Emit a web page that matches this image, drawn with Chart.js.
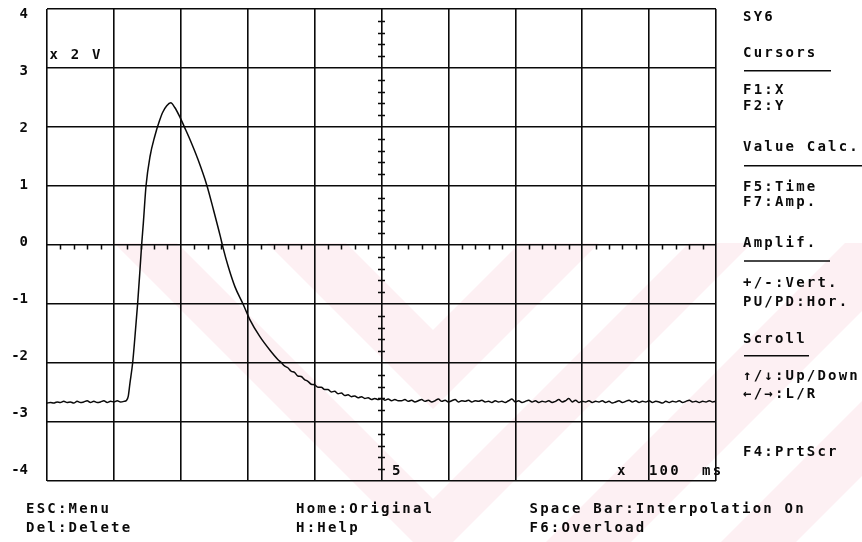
<!DOCTYPE html>
<html>
<head>
<meta charset="utf-8">
<script src="https://cdn.jsdelivr.net/npm/chart.js@4/dist/chart.umd.min.js"></script>
<style>
  html, body { margin: 0; padding: 0; background: #fff; overflow: hidden; }
  canvas { display: block; }
</style>
</head>
<body>
<canvas id="scope" width="862" height="542"></canvas>
<script>
// Recorded transient: time in units of 100 ms, amplitude in units of 2 V
const sampleTimes = [
  0.00, 0.05, 0.10, 0.15, 0.20, 0.25, 0.30, 0.35, 0.40, 0.45, 0.50, 0.55,
  0.60, 0.65, 0.70, 0.75, 0.80, 0.85, 0.90, 0.95, 1.00, 1.05, 1.10, 1.15,
  1.19, 1.215, 1.24, 1.28, 1.315, 1.355, 1.39, 1.415, 1.44, 1.48, 1.54, 1.61,
  1.68, 1.73, 1.79, 1.85, 1.91, 1.99, 2.05, 2.14, 2.26, 2.39, 2.49, 2.59,
  2.63, 2.71, 2.81, 2.93, 3.03, 3.18, 3.33, 3.45,
  3.50, 3.55, 3.60, 3.65, 3.70, 3.75, 3.80, 3.85, 3.90, 3.95, 4.00, 4.05,
  4.10, 4.15, 4.20, 4.25, 4.30, 4.35, 4.40, 4.45, 4.50, 4.55, 4.60, 4.65,
  4.70, 4.75, 4.80, 4.85, 4.90, 4.95, 5.00, 5.05, 5.10, 5.15, 5.20, 5.25,
  5.30, 5.35, 5.40, 5.45, 5.50, 5.55, 5.60, 5.65, 5.70, 5.75, 5.80, 5.85,
  5.90, 5.95, 6.00, 6.05, 6.10, 6.15, 6.20, 6.25, 6.30, 6.35, 6.40, 6.45,
  6.50, 6.55, 6.60, 6.65, 6.70, 6.75, 6.80, 6.85, 6.90, 6.95, 7.00, 7.05,
  7.10, 7.15, 7.20, 7.25, 7.30, 7.35, 7.40, 7.45, 7.50, 7.55, 7.60, 7.65,
  7.70, 7.75, 7.80, 7.85, 7.90, 7.95, 8.00, 8.05, 8.10, 8.15, 8.20, 8.25,
  8.30, 8.35, 8.40, 8.45, 8.50, 8.55, 8.60, 8.65, 8.70, 8.75, 8.80, 8.85,
  8.90, 8.95, 9.00, 9.05, 9.10, 9.15, 9.20, 9.25, 9.30, 9.35, 9.40, 9.45,
  9.50, 9.55, 9.60, 9.65, 9.70, 9.75, 9.80, 9.85, 9.90, 9.95, 10.00
];
const sampleVolts = [
  -2.68, -2.67, -2.68, -2.66, -2.67, -2.65, -2.67, -2.66, -2.68, -2.65, -2.67, -2.66,
  -2.64, -2.67, -2.65, -2.67, -2.66, -2.64, -2.67, -2.65, -2.66, -2.64, -2.66, -2.65,
  -2.63, -2.56, -2.34, -2.00, -1.55, -0.99, -0.42, 0.01, 0.37, 1.00, 1.50, 1.84,
  2.10, 2.25, 2.36, 2.41, 2.33, 2.16, 2.01, 1.78, 1.44, 1.01, 0.59, 0.15,
  -0.04, -0.37, -0.71, -1.00, -1.26, -1.55, -1.78, -1.94,
  -1.99, -2.05, -2.08, -2.14, -2.16, -2.22, -2.23, -2.28, -2.31, -2.36, -2.37, -2.41,
  -2.41, -2.45, -2.45, -2.49, -2.48, -2.52, -2.51, -2.55, -2.54, -2.57, -2.56, -2.59,
  -2.57, -2.60, -2.59, -2.62, -2.60, -2.62, -2.60, -2.63, -2.61, -2.64, -2.62, -2.64,
  -2.64, -2.62, -2.65, -2.63, -2.66, -2.64, -2.62, -2.65, -2.63, -2.66, -2.64, -2.61,
  -2.65, -2.63, -2.66, -2.64, -2.62, -2.66, -2.64, -2.65, -2.63, -2.66, -2.64, -2.65,
  -2.63, -2.66, -2.65, -2.67, -2.64, -2.66, -2.65, -2.67, -2.64, -2.61, -2.66, -2.64,
  -2.67, -2.65, -2.63, -2.66, -2.64, -2.67, -2.65, -2.66, -2.64, -2.67, -2.65, -2.62,
  -2.66, -2.64, -2.60, -2.66, -2.63, -2.67, -2.65, -2.66, -2.64, -2.67, -2.65, -2.66,
  -2.64, -2.67, -2.65, -2.68, -2.66, -2.64, -2.67, -2.65, -2.63, -2.66, -2.64, -2.67,
  -2.65, -2.66, -2.64, -2.67, -2.65, -2.66, -2.68, -2.65, -2.67, -2.65, -2.66, -2.64,
  -2.67, -2.65, -2.63, -2.66, -2.65, -2.67, -2.65, -2.66, -2.64, -2.66, -2.65
];

// Axis ranges and labels
const timeRange = [0, 10];
const voltRange = [-4, 4];
const voltTickLabels = [4, 3, 2, 1, 0, -1, -2, -3, -4];
const timeMarkLabel = '5';
const timeMarkValue = 5;
const timeUnitLabel = 'x  100  ms';
const voltUnitLabel = 'x 2 V';

// Key help texts
const bottomMenu = [
  ['ESC:Menu', 'Del:Delete'],
  ['Home:Original', 'H:Help'],
  ['Space Bar:Interpolation On', 'F6:Overload']
];
const sideMenu = [
  'SY6', 'Cursors', '—', 'F1:X', 'F2:Y', 'Value Calc.', '—', 'F5:Time', 'F7:Amp.',
  'Amplif.', '—', '+/-:Vert.', 'PU/PD:Hor.', 'Scroll', '—', '↑/↓:Up/Down', '←/→:L/R', 'F4:PrtScr'
];

// Layout of the text panels (pixels)
const sideX = 743;
const sideRows = [20.5, 57, 70.7, 94, 110, 150.5, 165.7, 190.5, 205.5, 246.5, 261, 286.5, 305.5, 343, 355.7, 380, 398, 456];
const sideRuleEnds = [831, 862, 830, 809];
const bottomCols = [26, 296, 529.5];
const bottomRows = [512.7, 531.7];

const MONO = '"DejaVu Sans Mono", "Liberation Mono", monospace';
const INK = '#0a0a0a';
const TEXT_FONT = 'bold 14px ' + MONO;

function noEdgePadding(s) {
  s.paddingTop = 0; s.paddingBottom = 0; s.paddingLeft = 0; s.paddingRight = 0;
}

// chevron band: points whose y + |x - ax| lies between c1 and c2
function chevronPath(c, ax, top, c1, c2, rightOnly) {
  c.beginPath();
  if (rightOnly) {
    c.moveTo(ax, c2); c.lineTo(ax + (c2 - top), top); c.lineTo(ax + (c1 - top), top); c.lineTo(ax, c1); c.closePath();
  } else {
    c.moveTo(ax - (c2 - top), top); c.lineTo(ax, c2); c.lineTo(ax + (c2 - top), top); c.closePath();
    c.moveTo(ax - (c1 - top), top); c.lineTo(ax, c1); c.lineTo(ax + (c1 - top), top); c.closePath();
  }
}

const scopeDecor = {
  id: 'scopeDecor',
  beforeDraw(chart) {
    const c = chart.ctx;
    c.save();
    c.fillStyle = '#ffffff';
    c.fillRect(0, 0, chart.width, chart.height);
    // faint pink chevron backdrop in the lower half
    const top = 243, ax = 433;
    c.beginPath();
    c.rect(0, top, chart.width, chart.height - top);
    c.clip();
    c.fillStyle = '#fdf0f3';
    chevronPath(c, ax, top, 330, 409, false); c.fill('evenodd');
    chevronPath(c, ax, top, 499, 562, false); c.fill('evenodd');
    chevronPath(c, ax, top, 655, 740, true); c.fill();
    chevronPath(c, ax, top, 830, 905, true); c.fill();
    c.restore();
  },
  beforeDatasetsDraw(chart) {
    const c = chart.ctx;
    const xs = chart.scales.x, ys = chart.scales.y;
    const y0 = ys.getPixelForValue(0);
    const xc = xs.getPixelForValue(timeMarkValue);
    c.save();
    c.strokeStyle = INK;
    c.lineWidth = 1.5;
    c.beginPath();
    // minor ticks hanging from the zero line
    for (let k = 1; k < 50; k++) {
      if (k % 5 === 0) continue;
      const px = Math.round(xs.getPixelForValue(k / 5)) + 0.5;
      c.moveTo(px, y0); c.lineTo(px, y0 + 4.5);
    }
    // minor ticks across the centre line
    for (let k = -19; k < 20; k++) {
      if (k % 5 === 0) continue;
      const py = Math.round(ys.getPixelForValue(k / 5)) + 0.5;
      c.moveTo(xc - 3.5, py); c.lineTo(xc + 3.5, py);
    }
    c.stroke();
    c.restore();
  },
  afterDraw(chart) {
    const c = chart.ctx;
    const xs = chart.scales.x;
    c.save();
    c.fillStyle = INK;
    c.strokeStyle = INK;
    c.font = TEXT_FONT;
    c.textBaseline = 'alphabetic';
    c.textAlign = 'left';
    c.letterSpacing = '2.2px';
    // unit captions inside the graticule
    c.fillText(voltUnitLabel, 49.5, 59.3);
    c.fillText(timeMarkLabel, xs.getPixelForValue(timeMarkValue) + 10.5, 474.5);
    c.fillText(timeUnitLabel, 617, 475);
    // side panel
    let r = 0;
    sideMenu.forEach((t, i) => {
      const y = sideRows[i];
      if (t === '—') {
        c.lineWidth = 1.5;
        c.beginPath();
        c.moveTo(sideX + 1, y); c.lineTo(sideRuleEnds[r++], y);
        c.stroke();
      } else {
        c.fillText(t, sideX, y);
      }
    });
    // bottom key line
    bottomMenu.forEach((col, i) => {
      col.forEach((t, j) => c.fillText(t, bottomCols[i], bottomRows[j]));
    });
    c.restore();
  }
};

const points = sampleTimes.map((t, i) => ({ x: t, y: sampleVolts[i] }));

new Chart(document.getElementById('scope'), {
  type: 'scatter',
  data: {
    datasets: [{
      data: points,
      showLine: true,
      borderColor: INK,
      borderWidth: 1.5,
      pointRadius: 0,
      cubicInterpolationMode: 'monotone',
      fill: false
    }]
  },
  options: {
    responsive: false,
    animation: false,
    devicePixelRatio: 1,
    events: [],
    layout: { padding: { left: 0, right: 146, top: 9, bottom: 0 } },
    plugins: { legend: { display: false }, tooltip: { enabled: false } },
    scales: {
      x: {
        type: 'linear', position: 'bottom',
        min: timeRange[0], max: timeRange[1],
        ticks: { stepSize: 1, display: false },
        grid: { color: INK, lineWidth: 1.6, drawTicks: false },
        border: { display: false },
        afterFit(s) { s.height = 61; noEdgePadding(s); }
      },
      y: {
        type: 'linear', position: 'left',
        min: voltRange[0], max: voltRange[1],
        ticks: { stepSize: 1, display: false },
        grid: { color: INK, lineWidth: 1.6, drawTicks: false },
        border: { display: false },
        afterFit(s) { s.width = 0; noEdgePadding(s); }
      },
      yLabels: {
        type: 'linear', position: 'left',
        min: -4.193, max: 4.102,
        grid: { display: false, drawTicks: false },
        border: { display: false },
        ticks: {
          padding: 19,
          color: INK,
          autoSkip: false,
          font: { family: MONO, size: 14, weight: 'bold' },
          callback: v => String(v)
        },
        afterBuildTicks(s) { s.ticks = voltTickLabels.map(v => ({ value: v })); },
        afterFit(s) { s.width = 47; noEdgePadding(s); }
      }
    }
  },
  plugins: [scopeDecor]
});
</script>
</body>
</html>
